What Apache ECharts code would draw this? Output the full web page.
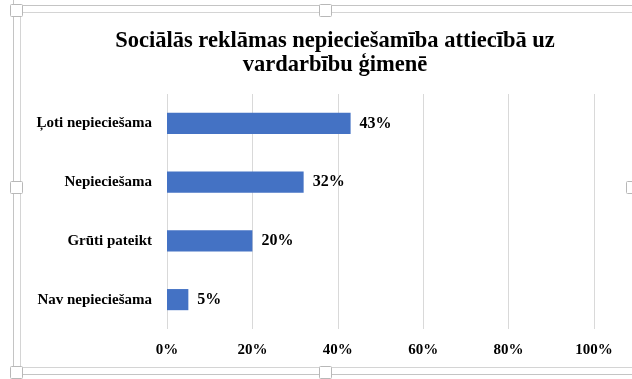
<!DOCTYPE html>
<html><head><meta charset="utf-8">
<script src="https://cdn.jsdelivr.net/npm/echarts@6/dist/echarts.min.js"></script>
<style>html,body{margin:0;padding:0;background:#fff}#c{width:632px;height:379px}</style>
</head><body><div id="c"></div>
<script>
const titleText = 'Sociālās reklāmas nepieciešamība attiecībā uz\nvardarbību ģimenē';
const categories = ['Nav nepieciešama', 'Grūti pateikt', 'Nepieciešama', 'Ļoti nepieciešama'];
const values = [0.05, 0.20, 0.32, 0.43];
const xTicks = [0, 0.2, 0.4, 0.6, 0.8, 1.0];

const font = '"Liberation Serif", "Times New Roman", serif';
const chart = echarts.init(document.getElementById('c'));
const handle = (x, y) => ({type:'rect', shape:{x:x, y:y, width:12, height:12, r:1},
  style:{fill:'#fff', stroke:'#b8b8b8', lineWidth:1}, z:100});
const line = (x1,y1,x2,y2,c) => ({type:'line', shape:{x1,y1,x2,y2}, style:{stroke:c||'#cfcfcf', lineWidth:1}, z:90});
chart.setOption({
  animation:false,
  title:{text:titleText, left:330, textAlign:'center', top:24,
    textStyle:{fontFamily:font, fontWeight:'bold', fontSize:22.5, lineHeight:24, color:'#000'}},
  grid:{left:167, right:38, top:94, height:235, containLabel:false},
  xAxis:{type:'value', min:xTicks[0], max:xTicks[xTicks.length-1], interval:0.2,
    axisLine:{show:false}, axisTick:{show:false},
    splitLine:{lineStyle:{color:'#d9d9d9', width:1}},
    axisLabel:{formatter:v=>Math.round(v*100)+'%', fontFamily:font, fontWeight:'bold', fontSize:15, color:'#000', margin:14}},
  yAxis:{type:'category', data:categories,
    axisLine:{show:false}, axisTick:{show:false},
    axisLabel:{fontFamily:font, fontWeight:'bold', fontSize:15, color:'#000', margin:15}},
  series:[{type:'bar', data:values, barCategoryGap:'64%',
    itemStyle:{color:'#4472c4'},
    label:{show:true, position:'right', distance:9, formatter:p=>Math.round(p.value*100)+'%',
      fontFamily:font, fontWeight:'bold', fontSize:16, color:'#000'}}],
  graphic:[
    line(13.5,0,13.5,379,'#c4c4c4'),
    line(20.5,12,20.5,368,'#d4d4d4'),
    line(13,5.5,632,5.5,'#c4c4c4'),
    line(20,12.5,632,12.5,'#d4d4d4'),
    line(20,367.5,632,367.5,'#d4d4d4'),
    line(13,374.5,632,374.5,'#c4c4c4'),
    handle(10.5,4.5), handle(319.5,4.5), handle(10.5,181.5), handle(10.5,366.5), handle(319.5,366.5), handle(626.5,181.5)
  ]
});
</script></body></html>
